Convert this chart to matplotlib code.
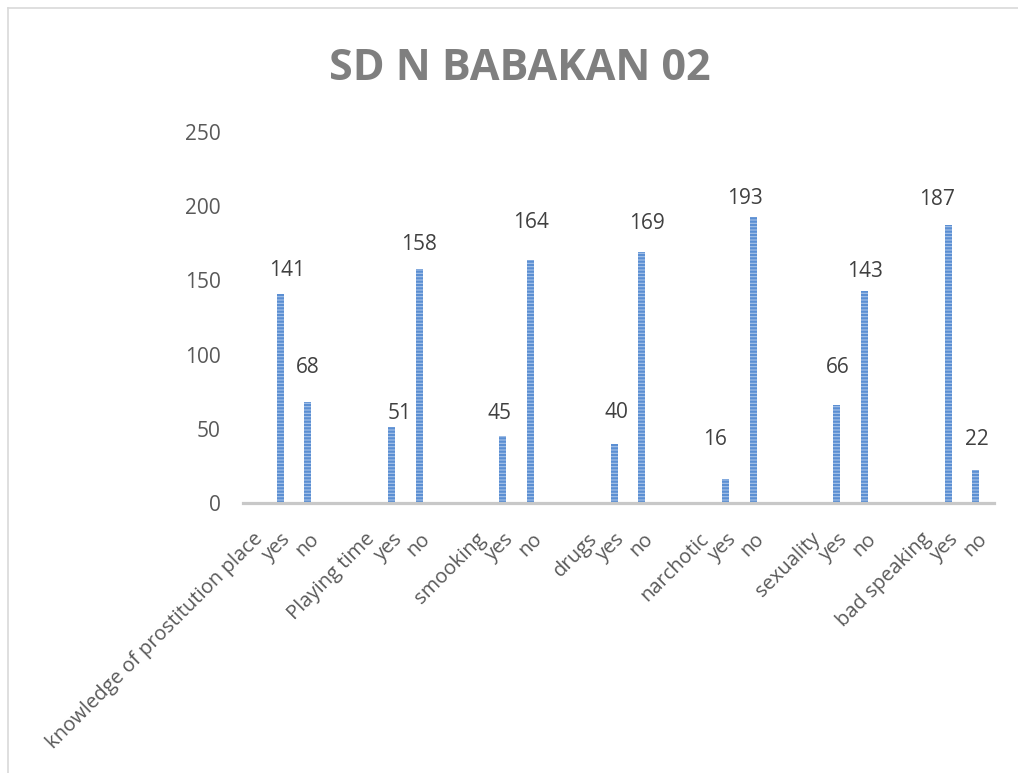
import numpy as np
import matplotlib.pyplot as plt
from matplotlib import transforms
from matplotlib.lines import Line2D

plt.rcParams['font.family'] = ['Open Sans', 'DejaVu Sans']
plt.rcParams['hatch.linewidth'] = 1.6

# Data
topics = ['knowledge of prostitution place', 'Playing time', 'smooking', 'drugs',
          'narchotic', 'sexuality', 'bad speaking']
answers = ['yes', 'no']
yes_vals = [141, 51, 45, 40, 16, 66, 187]
no_vals = [68, 158, 164, 169, 193, 143, 22]

# label nudges (pixels) as placed in the original
yes_dx = [7, 8, -3, 2, -10, 1, -11]
yes_dy = [23, 14, 23, 31, 40, 38, 26]
no_dx = [0, 0, 0, 5, -8, 0, 1]
no_dy = [35, 24, 37, 29, 18, 19, 31]

# slots: topic, yes, no, (empty) per group
pos_topic = np.arange(len(topics)) * 4
pos_yes = pos_topic + 1
pos_no = pos_topic + 2

fig = plt.figure(figsize=(10.18, 7.73), dpi=100)
ax = fig.add_axes([243/1018, 270/773, 751/1018, 371/773])

ax.bar(pos_yes, yes_vals, width=0.25, color='#a8c3e8', edgecolor='#5b8fd3',
       linewidth=0, hatch='-----')
ax.bar(pos_no, no_vals, width=0.25, color='#a8c3e8', edgecolor='#5b8fd3',
       linewidth=0, hatch='-----')

for x, v, dx, dy in zip(pos_yes, yes_vals, yes_dx, yes_dy):
    ax.annotate(str(v), (x, v), xytext=(dx, dy), textcoords='offset pixels',
                ha='center', va='center', fontsize=15, color='#404040')
for x, v, dx, dy in zip(pos_no, no_vals, no_dx, no_dy):
    ax.annotate(str(v), (x, v), xytext=(dx, dy), textcoords='offset pixels',
                ha='center', va='center', fontsize=15, color='#404040')

ax.set_xlim(-0.33, 26.65)
ax.set_ylim(0, 250)
ax.set_yticks([0, 50, 100, 150, 200, 250])
ax.tick_params(axis='y', length=0, pad=16, labelsize=15, labelcolor='#595959')
ax.set_xticks([])

for s in ['left', 'right', 'top']:
    ax.spines[s].set_visible(False)
ax.spines['bottom'].set_color('#c8c8c8')
ax.spines['bottom'].set_linewidth(2.3)

# rotated category labels
offs = transforms.ScaledTranslation(1/100, -26/100, fig.dpi_scale_trans)
trans = transforms.blended_transform_factory(ax.transData, ax.transAxes) + offs
for i, t in enumerate(topics):
    for x, lab in zip([pos_topic[i], pos_yes[i], pos_no[i]], [t] + answers):
        ax.text(x, 0, lab, transform=trans, rotation=45, rotation_mode='anchor',
                ha='right', va='top', fontsize=14.5, color='#595959')

fig.text(0.511, 0.912, 'SD N BABAKAN 02', ha='center', va='center',
         fontsize=31, fontweight='bold', color='#7f7f7f')

# chart frame (top and left edge visible)
fig.add_artist(Line2D([8/1018, 1], [1 - 8/773, 1 - 8/773], color='#d9d9d9', lw=1.2))
fig.add_artist(Line2D([8/1018, 8/1018], [0, 1 - 8/773], color='#d9d9d9', lw=1.2))

plt.savefig('out.png', dpi=100)
